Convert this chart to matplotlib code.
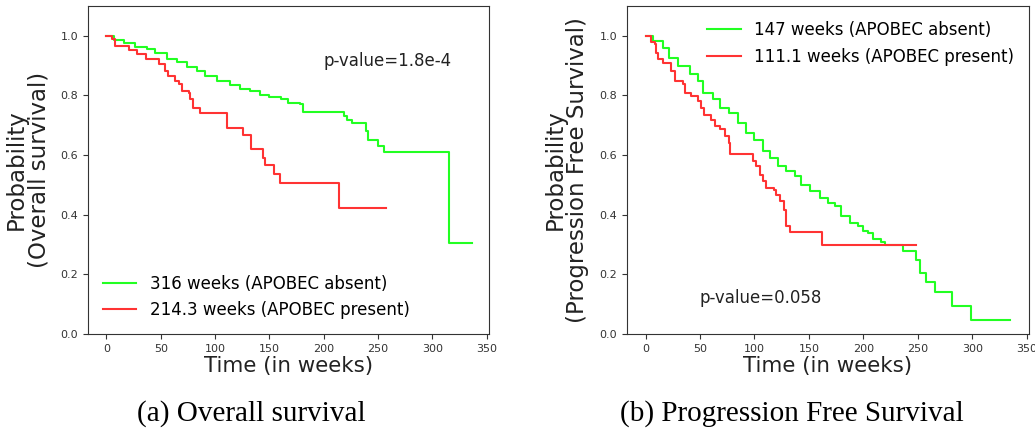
import matplotlib
matplotlib.use('Agg')
import matplotlib.pyplot as plt

# Overall survival, APOBEC absent / present (step times in weeks, survival prob)
os_absent_t = [0, 6.7, 16, 26.6, 37, 45, 56, 65, 74, 83, 91, 102, 114, 123, 132, 141,
               150, 161, 167, 178, 181, 219, 221, 226, 239, 241, 250, 255, 315, 336]
os_absent_p = [1.0, 0.986, 0.975, 0.964, 0.955, 0.943, 0.923, 0.912, 0.895, 0.882, 0.865,
               0.848, 0.834, 0.820, 0.814, 0.800, 0.795, 0.789, 0.775, 0.770, 0.745, 0.731,
               0.719, 0.708, 0.680, 0.652, 0.632, 0.610, 0.305, 0.305]
os_present_t = [0, 5, 8, 20.5, 28, 36, 48, 54, 57, 63, 67, 69.5, 75.6, 77, 79.5, 86, 111,
                126, 133, 144, 146, 154, 160, 214, 257]
os_present_p = [1.0, 0.99, 0.966, 0.953, 0.938, 0.923, 0.906, 0.882, 0.865, 0.848, 0.837,
                0.815, 0.809, 0.787, 0.759, 0.741, 0.691, 0.667, 0.620, 0.589, 0.568, 0.536,
                0.506, 0.423, 0.423]

# Progression free survival
pfs_absent_t = [0, 6.7, 16, 22, 29.6, 40.4, 48, 52.6, 61.8, 68, 77, 84.8, 92.5, 100, 107.7,
                113.9, 121.5, 129, 136.8, 143, 150.6, 160, 167.4, 173.6, 179.7, 187.3, 195,
                199.5, 204, 208.8, 216.4, 219.5, 236.3, 248.6, 251.6, 257.8, 265.7, 281.3,
                298.8, 335]
pfs_absent_p = [1.0, 0.983, 0.96, 0.927, 0.899, 0.871, 0.848, 0.809, 0.787, 0.759, 0.742,
                0.708, 0.674, 0.652, 0.613, 0.590, 0.562, 0.546, 0.531, 0.501, 0.478, 0.456,
                0.439, 0.428, 0.395, 0.372, 0.361, 0.344, 0.338, 0.318, 0.310, 0.299, 0.277,
                0.249, 0.204, 0.176, 0.140, 0.094, 0.047, 0.047]
pfs_present_t = [0, 5.2, 8.3, 10, 11.3, 16, 23.6, 26.6, 34, 36, 42, 48, 51, 54, 60, 63.4, 68,
                 72.6, 76.5, 77.8, 98.5, 101.6, 104.7, 108, 110.8, 117.5, 120, 123, 127,
                 128.6, 132.9, 162, 248]
pfs_present_p = [1.0, 0.98, 0.971, 0.943, 0.921, 0.910, 0.882, 0.848, 0.837, 0.809, 0.797,
                 0.781, 0.759, 0.736, 0.719, 0.697, 0.686, 0.663, 0.641, 0.602, 0.579, 0.562,
                 0.534, 0.512, 0.490, 0.484, 0.467, 0.445, 0.417, 0.361, 0.341, 0.299, 0.299]

os_labels = ['316 weeks (APOBEC absent)', '214.3 weeks (APOBEC present)']
pfs_labels = ['147 weeks (APOBEC absent)', '111.1 weeks (APOBEC present)']

green = '#22ff22'
red = '#ff3333'

fig = plt.figure(figsize=(10.35, 4.37), dpi=100)
ax1 = fig.add_axes([0.0850, 0.2357, 0.3874, 0.7506])
ax2 = fig.add_axes([0.6058, 0.2357, 0.3884, 0.7506])

ax1.step(os_absent_t, os_absent_p, where='post', color=green, lw=1.5, label=os_labels[0])
ax1.step(os_present_t, os_present_p, where='post', color=red, lw=1.5, label=os_labels[1])
ax2.step(pfs_absent_t, pfs_absent_p, where='post', color=green, lw=1.5, label=pfs_labels[0])
ax2.step(pfs_present_t, pfs_present_p, where='post', color=red, lw=1.5, label=pfs_labels[1])

ax1.text(200, 0.915, 'p-value=1.8e-4', fontsize=12, va='center', color='#222222')
ax2.text(49.6, 0.12, 'p-value=0.058', fontsize=12, va='center', color='#222222')

ax1.legend(loc='lower left', frameon=False, fontsize=12, bbox_to_anchor=(0.0, 0.0))
ax2.legend(loc='upper right', frameon=False, fontsize=12, bbox_to_anchor=(1.0, 1.0),
           labelspacing=0.55)

for ax, ylab in [(ax1, 'Probability\n(Overall survival)'),
                 (ax2, 'Probability\n(Progression Free Survival)')]:
    ax.set_xlim(-17, 352)
    ax.set_ylim(0, 1.1)
    ax.set_xticks([0, 50, 100, 150, 200, 250, 300, 350])
    ax.set_yticks([0.0, 0.2, 0.4, 0.6, 0.8, 1.0])
    ax.tick_params(labelsize=8, labelcolor='#333333', color='#333333')
    for s in ax.spines.values():
        s.set_color('#333333')
    ax.set_xlabel('Time (in weeks)', fontsize=15.4, color='#222222', labelpad=2)
    ax.set_ylabel(ylab, fontsize=16.5, color='#222222', linespacing=0.98)
    ax.yaxis.set_label_coords(-0.094, 0.5)

fig.text(251 / 1035, 1 - 414 / 437, '(a) Overall survival', family='Liberation Serif',
         fontsize=21, ha='center', va='center')
fig.text(792 / 1035, 1 - 414 / 437, '(b) Progression Free Survival', family='Liberation Serif',
         fontsize=21, ha='center', va='center')

fig.savefig('out.png', dpi=100)
